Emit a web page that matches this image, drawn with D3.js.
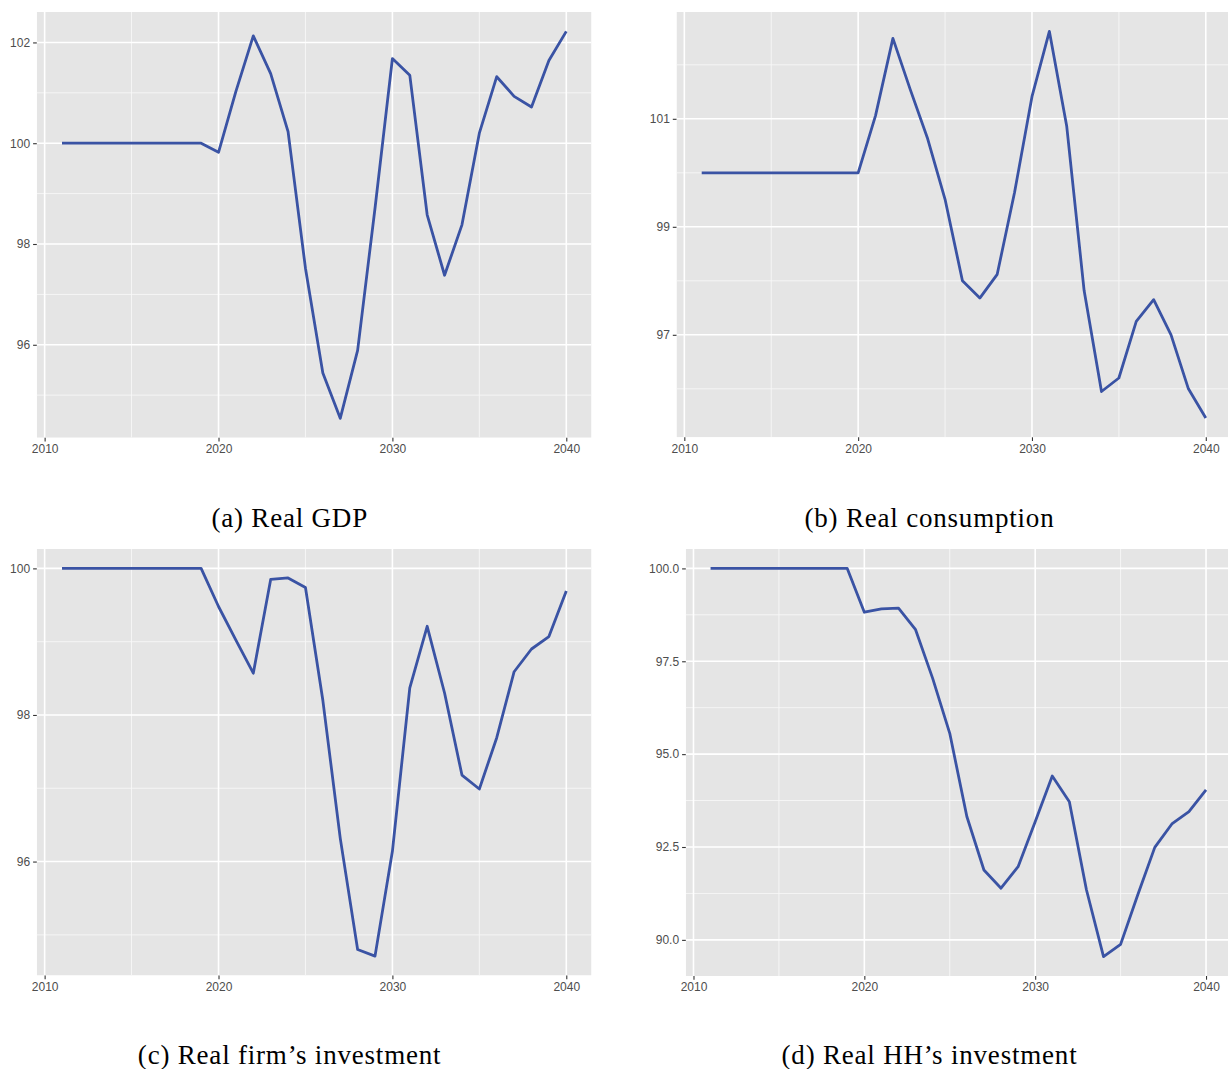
<!DOCTYPE html>
<html>
<head>
<meta charset="utf-8">
<script src="https://cdn.jsdelivr.net/npm/d3@7"></script>
<style>
  html, body { margin: 0; padding: 0; background: #ffffff; }
  svg { display: block; }
  .tick text { font-family: "Liberation Sans", Arial, sans-serif; font-size: 12px; fill: #4d4d4d; }
  .caption { font-family: "Liberation Serif", "Times New Roman", serif; font-size: 27px; fill: #000; letter-spacing: 0.8px; }
</style>
</head>
<body>
<script>
// ---------- data ----------
const years = [2011, 2012, 2013, 2014, 2015, 2016, 2017, 2018, 2019, 2020,
               2021, 2022, 2023, 2024, 2025, 2026, 2027, 2028, 2029, 2030,
               2031, 2032, 2033, 2034, 2035, 2036, 2037, 2038, 2039, 2040];

const realGDP = [100, 100, 100, 100, 100, 100, 100, 100, 100, 99.82,
                 101.03, 102.13, 101.38, 100.23, 97.52, 95.44, 94.54, 95.89, 98.71, 101.68,
                 101.35, 98.58, 97.38, 98.38, 100.20, 101.32, 100.93, 100.72, 101.64, 102.22];

const realConsumption = [100, 100, 100, 100, 100, 100, 100, 100, 100, 100,
                         101.06, 102.49, 101.54, 100.63, 99.51, 98.00, 97.68, 98.12, 99.64, 101.41,
                         102.62, 100.86, 97.82, 95.95, 96.20, 97.25, 97.65, 97.00, 96.00, 95.46];

const realFirmInvestment = [100, 100, 100, 100, 100, 100, 100, 100, 100, 99.48,
                            99.02, 98.57, 99.85, 99.87, 99.74, 98.20, 96.32, 94.80, 94.71, 96.14,
                            98.37, 99.21, 98.30, 97.18, 96.99, 97.69, 98.59, 98.90, 99.07, 99.69];

const realHHInvestment = [100, 100, 100, 100, 100, 100, 100, 100, 100, 98.82,
                          98.91, 98.93, 98.35, 97.04, 95.56, 93.32, 91.88, 91.39, 91.97, 93.18,
                          94.41, 93.72, 91.35, 89.55, 89.88, 91.21, 92.49, 93.12, 93.45, 94.04];

const xMajorTicks = [2010, 2020, 2030, 2040];
const xMinorTicks = [2015, 2025, 2035];

const yMajorA = [96, 98, 100, 102];
const yMinorA = [95, 97, 99, 101];
const yMajorB = [97, 99, 101];
const yMinorB = [96, 98, 100, 102];
const yMajorC = [96, 98, 100];
const yMinorC = [95, 97, 99];
const yMajorD = [90, 92.5, 95, 97.5, 100];
const yMinorD = [91.25, 93.75, 96.25, 98.75];

const captions = ["(a) Real GDP", "(b) Real consumption", "(c) Real firm\u2019s investment", "(d) Real HH\u2019s investment"];

// ---------- layout ----------
const W = 1228, H = 1069;
const panels = [
  { values: realGDP,            yMajor: yMajorA, yMinor: yMinorA, fmt: d3.format("d"),   box: { l: 36.8,  r: 591.5,  t: 12,  b: 437.7 }, cap: { x: 289.7, y: 527 } },
  { values: realConsumption,    yMajor: yMajorB, yMinor: yMinorB, fmt: d3.format("d"),   box: { l: 676.5, r: 1231,   t: 12,  b: 437.3 }, cap: { x: 929.5, y: 527 } },
  { values: realFirmInvestment, yMajor: yMajorC, yMinor: yMinorC, fmt: d3.format("d"),   box: { l: 36.8,  r: 591.5,  t: 549, b: 975.5 }, cap: { x: 289.6, y: 1064 } },
  { values: realHHInvestment,   yMajor: yMajorD, yMinor: yMinorD, fmt: d3.format(".1f"), box: { l: 685.8, r: 1230.8, t: 549, b: 976 },   cap: { x: 929.5, y: 1064 } }
];

const svg = d3.select("body").append("svg").attr("width", W).attr("height", H);
svg.append("rect").attr("width", W).attr("height", H).attr("fill", "#ffffff");

function expand(ext, m) {
  const d = (ext[1] - ext[0]) * m;
  return [ext[0] - d, ext[1] + d];
}

panels.forEach((p, i) => {
  const b = p.box;
  const x = d3.scaleLinear().domain(expand(d3.extent(years), 0.05)).range([b.l, b.r]);
  const y = d3.scaleLinear().domain(expand(d3.extent(p.values), 0.05)).range([b.b, b.t]);

  const g = svg.append("g");
  const clipId = "clip" + i;
  svg.append("clipPath").attr("id", clipId)
    .append("rect").attr("x", b.l).attr("y", b.t).attr("width", b.r - b.l).attr("height", b.b - b.t);

  const pg = g.append("g").attr("clip-path", "url(#" + clipId + ")");
  pg.append("rect").attr("x", b.l).attr("y", b.t).attr("width", b.r - b.l).attr("height", b.b - b.t)
    .attr("fill", "#e5e5e5");

  // minor grid
  pg.selectAll(".ymin").data(p.yMinor).enter().append("line")
    .attr("x1", b.l).attr("x2", b.r).attr("y1", d => y(d)).attr("y2", d => y(d))
    .attr("stroke", "#f7f7f7").attr("stroke-width", 0.9);
  pg.selectAll(".xmin").data(xMinorTicks).enter().append("line")
    .attr("y1", b.t).attr("y2", b.b).attr("x1", d => x(d)).attr("x2", d => x(d))
    .attr("stroke", "#f7f7f7").attr("stroke-width", 0.9);
  // major grid
  pg.selectAll(".ymaj").data(p.yMajor).enter().append("line")
    .attr("x1", b.l).attr("x2", b.r).attr("y1", d => y(d)).attr("y2", d => y(d))
    .attr("stroke", "#ffffff").attr("stroke-width", 1.6);
  pg.selectAll(".xmaj").data(xMajorTicks).enter().append("line")
    .attr("y1", b.t).attr("y2", b.b).attr("x1", d => x(d)).attr("x2", d => x(d))
    .attr("stroke", "#ffffff").attr("stroke-width", 1.6);

  // line
  const line = d3.line().x((d, k) => x(years[k])).y(d => y(d));
  pg.append("path").datum(p.values)
    .attr("d", line)
    .attr("fill", "none")
    .attr("stroke", "#3a53a4")
    .attr("stroke-width", 2.8)
    .attr("stroke-linejoin", "round");

  // axes
  const xAxis = d3.axisBottom(x).tickValues(xMajorTicks).tickFormat(d3.format("d"))
    .tickSize(3.7).tickPadding(3);
  const gx = g.append("g").attr("transform", "translate(0," + b.b + ")").call(xAxis);
  gx.select(".domain").remove();
  gx.selectAll(".tick line").attr("stroke", "#333333").attr("stroke-width", 1.1);

  const yAxis = d3.axisLeft(y).tickValues(p.yMajor).tickFormat(p.fmt)
    .tickSize(3.7).tickPadding(3);
  const gy = g.append("g").attr("transform", "translate(" + b.l + ",0)").call(yAxis);
  gy.select(".domain").remove();
  gy.selectAll(".tick line").attr("stroke", "#333333").attr("stroke-width", 1.1);

  svg.selectAll(".tick text").attr("font-family", null).attr("font-size", null).attr("fill", null);

  svg.append("text").attr("class", "caption")
    .attr("x", p.cap.x).attr("y", p.cap.y)
    .attr("text-anchor", "middle")
    .text(captions[i]);
});
</script>
</body>
</html>
